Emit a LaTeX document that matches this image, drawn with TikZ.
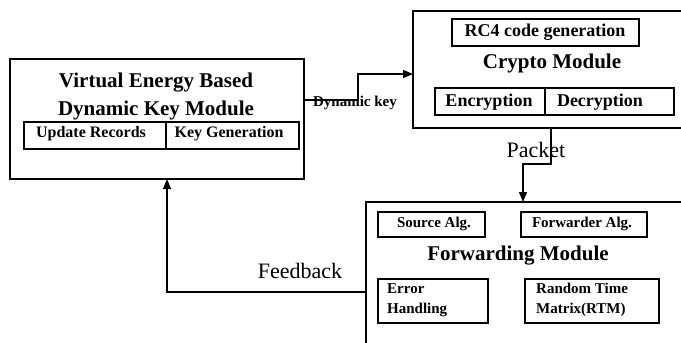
\documentclass[tikz,border=0pt]{standalone}
\usepackage{fontspec}
\setmainfont{Liberation Serif}
\usetikzlibrary{arrows.meta,fit}
\begin{document}
\begin{tikzpicture}[x=1pt,y=-1pt,
  box/.style={draw, line width=1.2pt, inner sep=0pt, outer sep=0pt},
  conn/.style={line width=1.2pt, -{Triangle[length=10pt,width=8pt]}},
  title/.style={inner sep=0pt, anchor=base, font=\fontsize{21}{25}\selectfont\bfseries},
  lab/.style={inner sep=0pt, anchor=base, font=\fontsize{22}{26}\selectfont},
  cin/.style={inner sep=0pt, anchor=base, font=\fontsize{18}{22}\selectfont\bfseries},
  vin/.style={inner sep=0pt, anchor=base, font=\fontsize{16}{20}\selectfont\bfseries},
  fin/.style={inner sep=0pt, anchor=base, font=\fontsize{15}{19}\selectfont\bfseries},
  finl/.style={fin, anchor=base west}]
\useasboundingbox (0,0) rectangle (681,343);
\begin{scope}
\clip (0,0) rectangle (681,343);
% Virtual energy module
\coordinate (v1) at (10,59); \coordinate (v2) at (304,179);
\node[box, fit=(v1)(v2)] (veb) {};
\coordinate (u1) at (24,122); \coordinate (u2) at (166,149);
\node[box, fit=(u1)(u2)] (upd) {};
\coordinate (k1) at (166,122); \coordinate (k2) at (299,149);
\node[box, fit=(k1)(k2)] (keyg) {};
\node[title] (vt1) at (156,87) {Virtual Energy Based};
\node[title] (vt2) at (156,115) {Dynamic Key Module};
\node[vin] (updt) at (91,137) {Update Records};
\node[vin] (keyt) at (229,137) {Key Generation};
% Crypto module
\coordinate (c1) at (413,11); \coordinate (c2) at (700,128);
\node[box, fit=(c1)(c2)] (crypto) {};
\coordinate (r1) at (452,19); \coordinate (r2) at (639,46);
\node[box, fit=(r1)(r2)] (rc4) {};
\coordinate (e1) at (435,88); \coordinate (e2) at (545,115);
\node[box, fit=(e1)(e2)] (enc) {};
\coordinate (d1) at (545,88); \coordinate (d2) at (674,115);
\node[box, fit=(d1)(d2)] (dec) {};
\node[cin] (rc4t) at (545,36) {RC4 code generation};
\node[title] (ct) at (552,68) {Crypto Module};
\node[cin] (enct) at (489,106) {Encryption};
\node[cin] (dect) at (600,106) {Decryption};
% Forwarding module
\coordinate (f1) at (366,202); \coordinate (f2) at (700,360);
\node[box, fit=(f1)(f2)] (fwd) {};
\coordinate (s1) at (378,212); \coordinate (s2) at (485,237);
\node[box, fit=(s1)(s2)] (src) {};
\coordinate (w1) at (521,212); \coordinate (w2) at (647,237);
\node[box, fit=(w1)(w2)] (fwa) {};
\coordinate (h1) at (378,279); \coordinate (h2) at (488,323);
\node[box, fit=(h1)(h2)] (err) {};
\coordinate (m1) at (525,279); \coordinate (m2) at (659,323);
\node[box, fit=(m1)(m2)] (rtm) {};
\node[fin] (srct) at (434,227) {Source Alg.};
\node[fin] (fwat) at (582,227) {Forwarder Alg.};
\node[title] (ft) at (518,260) {Forwarding Module};
\node[finl] (errt1) at (387,293) {Error};
\node[finl] (errt2) at (387,313) {Handling};
\node[finl] (rtmt1) at (536,293) {Random Time};
\node[finl] (rtmt2) at (536,313) {Matrix(RTM)};
% connectors
\draw[conn] ([yshift=19pt]veb.east) -- ++(54,0) |- ([yshift=-4.5pt]crypto.west);
\node[fin] (dk) at (355,106) {Dynamic key};
\draw[conn] ([xshift=138pt]crypto.south west) -- ++(0,36) -| ([xshift=157pt]fwd.north west);
\node[lab] (pk) at (536,157) {Packet};
\draw[conn] ([yshift=-90pt]fwd.north west) -| ([xshift=157pt]veb.south west);
\node[lab] (fb) at (300,278) {Feedback};
\end{scope}
\end{tikzpicture}
\end{document}
